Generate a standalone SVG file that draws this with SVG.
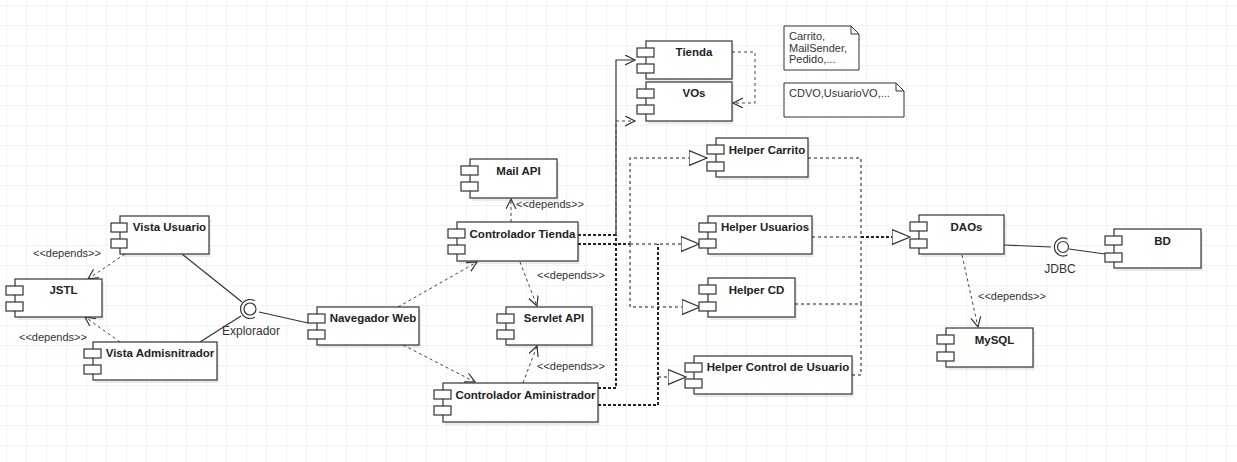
<svg xmlns="http://www.w3.org/2000/svg" width="1237" height="462" viewBox="0 0 1237 462">
<style>
.box{fill:#fff;stroke:#333;stroke-width:1.2}
.sh{fill:#000;opacity:0.08}
.tab{fill:#fff;stroke:#333;stroke-width:1.2}
.lbl{font-family:"Liberation Sans",Arial,sans-serif;font-size:11.5px;font-weight:bold;fill:#222;text-anchor:middle}
.txt{font-family:"Liberation Sans",Arial,sans-serif;font-size:11px;fill:#333}
.dep{fill:none;stroke:#444;stroke-width:1;stroke-dasharray:3 3}
.sol{fill:none;stroke:#333;stroke-width:1.2}
.dot{fill:none;stroke:#666;stroke-width:1.5;stroke-dasharray:3 3}
.dotk{fill:none;stroke:#222;stroke-width:2;stroke-dasharray:3 2}
.note{fill:#fff;stroke:#333;stroke-width:1}
</style>
<defs>
<pattern id="grid" x="6" y="5" width="20" height="20" patternUnits="userSpaceOnUse">
<path d="M20 0 L0 0 0 20" fill="none" stroke="#e6e6e6" stroke-width="1"/>
</pattern>
<marker id="open" markerUnits="userSpaceOnUse" markerWidth="14" markerHeight="12" refX="10" refY="5" orient="auto" viewBox="0 0 14 12">
<path d="M0,0 L10,5 L0,10" fill="none" stroke="#333" stroke-width="1.2"/>
</marker>
<marker id="tri" markerUnits="userSpaceOnUse" markerWidth="20" markerHeight="17" refX="18.5" refY="8" orient="auto" viewBox="0 0 20 17">
<path d="M0.5,0.5 L18.5,8 L0.5,15.5 Z" fill="#fff" stroke="#333" stroke-width="1.2"/>
</marker>
</defs>
<rect width="1237" height="462" fill="#fff"/>
<rect width="1237" height="462" fill="url(#grid)"/>

<g id="connectors">
<path class="dep" d="M125,254 L88,279" marker-end="url(#open)"/>
<path class="dep" d="M120,342 L85,317" marker-end="url(#open)"/>
<path class="sol" d="M182,254 L242,302"/>
<path class="sol" d="M200,342 L241,316"/>
<path class="sol" d="M259,312 L308,323"/>
<path class="dep" d="M398,307 L477,262" marker-end="url(#open)"/>
<path class="dep" d="M403,345 L475,382" marker-end="url(#open)"/>
<path class="dep" d="M511,222 L511,199" marker-end="url(#open)"/>
<path class="dep" d="M520,262 L537,306" marker-end="url(#open)"/>
<path class="dep" d="M523,383 L537,346" marker-end="url(#open)"/>
<path class="dotk" d="M578,235 L616,235"/>
<path class="sol" d="M616,235 L616,60 L635,60" marker-end="url(#open)"/>
<path class="dotk" d="M598,388 L616,388 L616,235"/>
<path class="dep" d="M616,235 L616,121 L635,121" marker-end="url(#open)"/>
<path class="dep" d="M732,52 L755,52 L755,103 L733,103" marker-end="url(#open)"/>
<path class="dotk" d="M578,244 L630,244"/>
<path class="dot" d="M630,244 L681,244"/>
<path class="dot" d="M681,244 L699,244" marker-end="url(#tri)"/>
<path class="dot" d="M630,244 L630,158 L707,158" marker-end="url(#tri)"/>
<path class="dot" d="M630,244 L630,307 L700,307" marker-end="url(#tri)"/>
<path class="dotk" d="M598,405 L658,405 L658,244"/>
<path class="dot" d="M658,377 L686,377" marker-end="url(#tri)"/>
<path class="dot" d="M808,158 L861,158 L861,237"/>
<path class="dot" d="M812,237 L861,237"/>
<path class="dotk" d="M861,237 L892,237"/>
<path class="dot" d="M892,237 L910,237" marker-end="url(#tri)"/>
<path class="dot" d="M795,304 L861,304 L861,237"/>
<path class="dot" d="M852,375 L861,375 L861,304"/>
<path class="dep" d="M962,255 L978,327" marker-end="url(#open)"/>
<path class="sol" d="M1004,245 L1051,247"/>
<path class="sol" d="M1069,249 L1105,254"/>
</g>

<g id="explorador">
<circle cx="250" cy="309" r="6" fill="#fff" stroke="#333" stroke-width="1.2"/>
<path d="M254.8,300.8 A9.5,9.5 0 1 0 254.8,317.2" fill="none" stroke="#333" stroke-width="1.2"/>
<text class="txt" x="251" y="335" text-anchor="middle" style="font-size:12px">Explorador</text>
</g>
<g id="jdbc">
<circle cx="1063" cy="247" r="5.5" fill="#fff" stroke="#333" stroke-width="1.2"/>
<path d="M1067.5,239 A9,9 0 1 0 1067.5,255" fill="none" stroke="#333" stroke-width="1.2"/>
<text class="txt" x="1060" y="273" text-anchor="middle" style="font-size:12px">JDBC</text>
</g>

<g id="labels">
<text class="txt" x="33" y="257">&lt;&lt;depends&gt;&gt;</text>
<text class="txt" x="19" y="341">&lt;&lt;depends&gt;&gt;</text>
<text class="txt" x="516" y="208">&lt;&lt;depends&gt;&gt;</text>
<text class="txt" x="537" y="279">&lt;&lt;depends&gt;&gt;</text>
<text class="txt" x="537" y="370">&lt;&lt;depends&gt;&gt;</text>
<text class="txt" x="978" y="300">&lt;&lt;depends&gt;&gt;</text>
</g>

<g id="vista-usuario">
<rect class="sh" x="122" y="219" width="89" height="38"/>
<rect class="box" x="120" y="216" width="89" height="38"/>
<rect class="tab" x="111" y="223" width="16" height="9"/>
<rect class="tab" x="111" y="239" width="16" height="9"/>
<text class="lbl" x="169.5" y="231">Vista Usuario</text>
</g>
<g id="jstl">
<rect class="sh" x="17" y="282" width="87" height="38"/>
<rect class="box" x="15" y="279" width="87" height="38"/>
<rect class="tab" x="6" y="286" width="17" height="9"/>
<rect class="tab" x="6" y="302" width="17" height="9"/>
<text class="lbl" x="63.5" y="294">JSTL</text>
</g>
<g id="vista-admin">
<rect class="sh" x="95" y="345" width="124" height="38"/>
<rect class="box" x="93" y="342" width="124" height="38"/>
<rect class="tab" x="84" y="349" width="17" height="9"/>
<rect class="tab" x="84" y="365" width="17" height="9"/>
<text class="lbl" x="160" y="357">Vista Admisnitrador</text>
</g>
<g id="navegador-web">
<rect class="sh" x="319" y="310" width="102" height="38"/>
<rect class="box" x="317" y="307" width="102" height="38"/>
<rect class="tab" x="308" y="314" width="17" height="9"/>
<rect class="tab" x="308" y="330" width="17" height="9"/>
<text class="lbl" x="373" y="322">Navegador Web</text>
</g>
<g id="mail-api">
<rect class="sh" x="472" y="162" width="87" height="39"/>
<rect class="box" x="470" y="159" width="87" height="39"/>
<rect class="tab" x="461" y="166" width="17" height="9"/>
<rect class="tab" x="461" y="182" width="17" height="9"/>
<text class="lbl" x="518.5" y="175">Mail API</text>
</g>
<g id="controlador-tienda">
<rect class="sh" x="459" y="225" width="121" height="39"/>
<rect class="box" x="457" y="222" width="121" height="39"/>
<rect class="tab" x="448" y="229" width="17" height="9"/>
<rect class="tab" x="448" y="245" width="17" height="9"/>
<text class="lbl" x="522.5" y="238">Controlador Tienda</text>
</g>
<g id="servlet-api">
<rect class="sh" x="508" y="310" width="86" height="38"/>
<rect class="box" x="506" y="307" width="86" height="38"/>
<rect class="tab" x="497" y="314" width="17" height="9"/>
<rect class="tab" x="497" y="330" width="17" height="9"/>
<text class="lbl" x="554" y="322">Servlet API</text>
</g>
<g id="controlador-aministrador">
<rect class="sh" x="445" y="386" width="155" height="39"/>
<rect class="box" x="443" y="383" width="155" height="39"/>
<rect class="tab" x="434" y="390" width="17" height="9"/>
<rect class="tab" x="434" y="406" width="17" height="9"/>
<text class="lbl" x="525.5" y="399">Controlador Aministrador</text>
</g>
<g id="tienda">
<rect class="sh" x="648" y="44" width="86" height="38"/>
<rect class="box" x="646" y="41" width="86" height="38"/>
<rect class="tab" x="637" y="48" width="17" height="9"/>
<rect class="tab" x="637" y="64" width="17" height="9"/>
<text class="lbl" x="694" y="56">Tienda</text>
</g>
<g id="vos">
<rect class="sh" x="648" y="85" width="86" height="39"/>
<rect class="box" x="646" y="82" width="86" height="39"/>
<rect class="tab" x="637" y="89" width="17" height="9"/>
<rect class="tab" x="637" y="105" width="17" height="9"/>
<text class="lbl" x="694" y="97">VOs</text>
</g>
<g id="note-carrito">
<path class="note" d="M784,26 L851,26 L859,34 L859,70 L784,70 Z M851,26 L851,34 L859,34"/>
<text class="txt" x="789" y="40">Carrito,</text>
<text class="txt" x="789" y="52">MailSender,</text>
<text class="txt" x="789" y="63">Pedido,...</text>
</g>
<g id="note-vo">
<path class="note" d="M784,83 L896,83 L904,91 L904,117 L784,117 Z M896,83 L896,91 L904,91"/>
<text class="txt" x="789" y="97">CDVO,UsuarioVO,...</text>
</g>
<g id="helper-carrito">
<rect class="sh" x="718" y="141" width="92" height="39"/>
<rect class="box" x="716" y="138" width="92" height="39"/>
<rect class="tab" x="707" y="145" width="17" height="9"/>
<rect class="tab" x="707" y="162" width="17" height="9"/>
<text class="lbl" x="767" y="154">Helper Carrito</text>
</g>
<g id="helper-usuarios">
<rect class="sh" x="710" y="219" width="104" height="38"/>
<rect class="box" x="708" y="216" width="104" height="38"/>
<rect class="tab" x="699" y="223" width="17" height="9"/>
<rect class="tab" x="699" y="239" width="17" height="9"/>
<text class="lbl" x="765" y="231">Helper Usuarios</text>
</g>
<g id="helper-cd">
<rect class="sh" x="710" y="281" width="87" height="39"/>
<rect class="box" x="708" y="278" width="87" height="39"/>
<rect class="tab" x="699" y="285" width="17" height="9"/>
<rect class="tab" x="699" y="302" width="17" height="9"/>
<text class="lbl" x="756.5" y="294">Helper CD</text>
</g>
<g id="helper-control-usuario">
<rect class="sh" x="696" y="359" width="158" height="38"/>
<rect class="box" x="694" y="356" width="158" height="38"/>
<rect class="tab" x="685" y="363" width="17" height="9"/>
<rect class="tab" x="685" y="379" width="17" height="9"/>
<text class="lbl" x="778" y="371">Helper Control de Usuario</text>
</g>
<g id="daos">
<rect class="sh" x="921" y="218" width="85" height="39"/>
<rect class="box" x="919" y="215" width="85" height="39"/>
<rect class="tab" x="910" y="222" width="17" height="9"/>
<rect class="tab" x="910" y="239" width="17" height="9"/>
<text class="lbl" x="966.5" y="231">DAOs</text>
</g>
<g id="bd">
<rect class="sh" x="1116" y="232" width="87" height="39"/>
<rect class="box" x="1114" y="229" width="87" height="39"/>
<rect class="tab" x="1105" y="236" width="17" height="9"/>
<rect class="tab" x="1105" y="253" width="17" height="9"/>
<text class="lbl" x="1162.5" y="245">BD</text>
</g>
<g id="mysql">
<rect class="sh" x="948" y="331" width="87" height="39"/>
<rect class="box" x="946" y="328" width="87" height="39"/>
<rect class="tab" x="937" y="335" width="17" height="9"/>
<rect class="tab" x="937" y="352" width="17" height="9"/>
<text class="lbl" x="994.5" y="344">MySQL</text>
</g>
</svg>
